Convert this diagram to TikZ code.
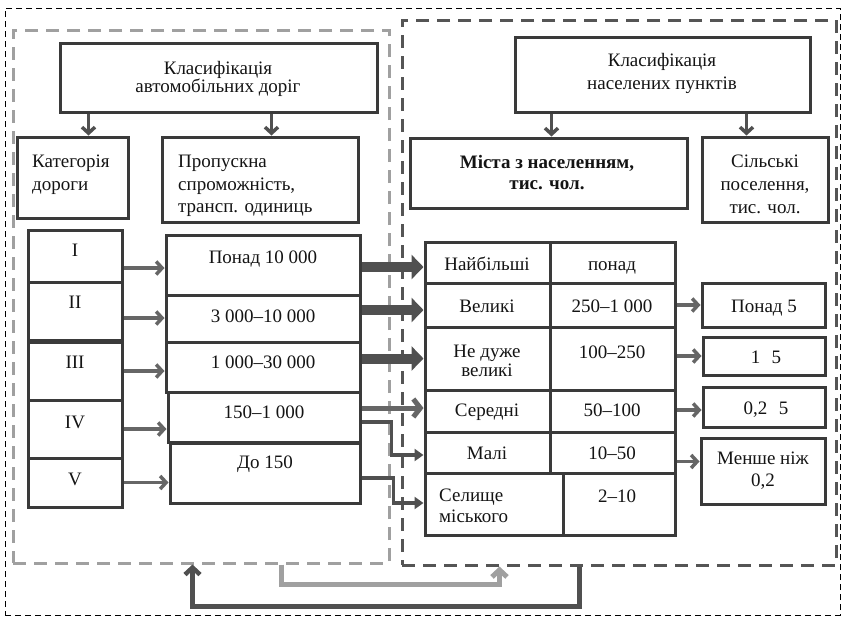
\documentclass[tikz,border=0pt]{standalone}
\usepackage{fontspec}
\setmainfont{Liberation Serif}
\usetikzlibrary{arrows.meta,fit}
\definecolor{boxc}{HTML}{3A3A3A}
\definecolor{arrd}{HTML}{505050}
\definecolor{arrm}{HTML}{666666}
\definecolor{lgray}{HTML}{A0A0A0}
\definecolor{dgray}{HTML}{555555}
\definecolor{txtc}{HTML}{141414}
\begin{document}
\begin{tikzpicture}[x=1pt,y=-1pt,
  bx/.style={draw=boxc, line width=3pt, fill=white, inner sep=0pt},
  fs/.style={font=\fontsize{19}{#1}\selectfont, text=txtc, inner sep=0pt},
  fsb/.style={font=\fontsize{19}{#1}\selectfont\bfseries, text=txtc, inner sep=0pt},
  tx/.style={fs=21, anchor=base},
  darr/.style={draw=arrd, line width=3.5pt, -{Straight Barb[length=6pt,width=13pt]}},
  garr/.style={draw=arrm, line width=3.5pt, -{Straight Barb[length=6pt,width=13pt]}},
  bigarr/.style={draw=arrd, line width=10pt, -{Triangle[length=12pt,width=24pt]}},
  midarr/.style={draw=arrm, line width=5pt, -{Straight Barb[length=7pt,width=18pt]}},
  elarr/.style={draw=arrd, line width=3.5pt, -{Triangle[length=9pt,width=12pt]}},
  botd/.style={draw=arrd, line width=4.5pt, -{Straight Barb[length=7pt,width=15pt]}},
  botl/.style={draw=lgray, line width=5pt, -{Straight Barb[length=7pt,width=15pt]}}
]
\useasboundingbox (0,0) rectangle (845,619);
\fill[white] (0,0) rectangle (845,619);

% region frames
\node[draw=black, dash pattern=on 6pt off 4pt, line width=0.9pt, inner sep=0pt, fit={(5,8) (840,615)}] (outer) {};
\node[draw=lgray, dash pattern=on 13pt off 8pt, line width=3pt, inner sep=0pt, fit={(13,30) (389,563)}] (lreg) {};
\node[draw=dgray, dash pattern=on 13pt off 8pt, line width=3pt, inner sep=0pt, fit={(402,20) (836,565)}] (rreg) {};

% left header boxes
\node[bx, fit={(60,43) (377,112)}] (ctop) {};
\node[bx, fit={(17,137) (128,218)}] (ccat) {};
\node[bx, fit={(162,137) (358,222)}] (ccap) {};
\node[fs=17, align=center] (ctopt) at (218,79) {Класифікація\\автомобільних доріг};
\node[fs=23, align=left, anchor=west] (ccatt) at (32,175) {Категорія\\дороги};
\node[fs=22.5, align=left, anchor=west] (ccapt) at (178,186) {Пропускна\\спроможність,\\трансп. одиниць};

% right header boxes
\node[bx, fit={(515,37) (810,112)}] (rtop) {};
\node[bx, fit={(410,138) (687,208)}] (rcity) {};
\node[bx, fit={(702,137) (828,222)}] (rrural) {};
\node[fs=23, align=center] (rtopt) at (662,73) {Класифікація\\населених пунктів};
\node[fsb=21, align=center] (rcityt) at (547,173) {Міста з населенням,\\тис. чол.};
\node[fs=23, align=center] (rruralt) at (765,184.5) {Сільські\\поселення,\\тис. чол.};

% category boxes
\node[bx, fit={(28,230) (122,282)}] (b1) {};
\node[bx, fit={(28,282) (122,340)}] (b2) {};
\node[bx, fit={(28,342) (122,400)}] (b3) {};
\node[bx, fit={(28,400) (122,458)}] (b4) {};
\node[bx, fit={(28,458) (122,507)}] (b5) {};
\node[tx] (b1t) at (75,256) {I};
\node[tx] (b2t) at (75,308) {II};
\node[tx] (b3t) at (75,368) {III};
\node[tx] (b4t) at (75,428) {IV};
\node[tx] (b5t) at (75,485) {V};

% capacity boxes
\node[bx, fit={(166,235) (360,295)}] (p1) {};
\node[bx, fit={(166,295) (360,342)}] (p2) {};
\node[bx, fit={(166,342) (360,392)}] (p3) {};
\node[bx, fit={(168,392) (360,442)}] (p4) {};
\node[bx, fit={(170,443) (360,503)}] (p5) {};
\node[tx] (p1t) at (263,263) {Понад 10 000};
\node[tx] (p2t) at (263,322) {3 000–10 000};
\node[tx] (p3t) at (263,368) {1 000–30 000};
\node[tx] (p4t) at (264,418) {150–1 000};
\node[tx] (p5t) at (265,468) {До 150};

% city table
\node[bx, fit={(425,242) (550,283)}] (c1a) {};
\node[bx, fit={(550,242) (675,283)}] (c1b) {};
\node[bx, fit={(425,283) (550,327)}] (c2a) {};
\node[bx, fit={(550,283) (675,327)}] (c2b) {};
\node[bx, fit={(425,327) (550,390)}] (c3a) {};
\node[bx, fit={(550,327) (675,390)}] (c3b) {};
\node[bx, fit={(425,390) (550,432)}] (c4a) {};
\node[bx, fit={(550,390) (675,432)}] (c4b) {};
\node[bx, fit={(425,432) (550,473)}] (c5a) {};
\node[bx, fit={(550,432) (675,473)}] (c5b) {};
\node[bx, fit={(425,473) (563,535)}] (c6a) {};
\node[bx, fit={(563,473) (675,535)}] (c6b) {};
\node[tx] (c1at) at (487,270) {Найбільші};
\node[tx] (c1bt) at (612,270) {понад};
\node[tx] (c2at) at (487,312) {Великі};
\node[tx] (c2bt) at (612,312) {250–1 000};
\node[fs=19, align=center] (c3at) at (487,361) {Не дуже\\великі};
\node[tx] (c3bt) at (612,358) {100–250};
\node[tx] (c4at) at (487,416) {Середні};
\node[tx] (c4bt) at (612,416) {50–100};
\node[tx] (c5at) at (487,459) {Малі};
\node[tx] (c5bt) at (612,459) {10–50};
\node[fs=21, align=left, anchor=west] (c6at) at (439,506) {Селище\\міського};
\node[tx] (c6bt) at (617,502) {2–10};

% rural boxes
\node[bx, fit={(702,283) (825,327)}] (s1) {};
\node[bx, fit={(703,337) (825,375)}] (s2) {};
\node[bx, fit={(703,387) (825,427)}] (s3) {};
\node[bx, fit={(701,438) (825,504)}] (s4) {};
\node[tx] (s1t) at (764,312) {Понад 5};
\node[tx] (s2t) at (766,363) {1\hspace{0.6em}5};
\node[tx] (s3t) at (766,414) {0,2\hspace{0.6em}5};
\node[fs=22, align=center] (s4t) at (763,471) {Менше ніж\\0,2};

% header arrows
\draw[darr] ([xshift=30]ctop.south west) -- ([xshift=30]ctop.south west |- ccat.north);
\draw[darr] ([xshift=213]ctop.south west) -- ([xshift=213]ctop.south west |- ccap.north);
\draw[darr] ([xshift=38]rtop.south west) -- ([xshift=38]rtop.south west |- rcity.north);
\draw[darr] ([xshift=233]rtop.south west) -- ([xshift=233]rtop.south west |- rrural.north);

% category -> capacity
\draw[garr] ([yshift=-12]b1.east) -- ([yshift=-12]b1.east -| p1.west);
\draw[garr] ([yshift=-7]b2.east) -- ([yshift=-7]b2.east -| p2.west);
\draw[garr] (b3.east) -- (b3.east -| p3.west);
\draw[garr] (b4.east) -- (b4.east -| p4.west);
\draw[garr] (b5.east) -- (b5.east -| p5.west);

% capacity -> cities
\draw[bigarr] ([yshift=-4.5]c1a.west -| p1.east) -- ([yshift=-4.5]c1a.west);
\draw[bigarr] ([yshift=-5]c2a.west -| p2.east) -- ([yshift=-5]c2a.west);
\draw[bigarr] (c3a.west -| p3.east) -- (c3a.west);
\draw[midarr] ([yshift=3]c4a.west -| p4.east) -- ([yshift=3]c4a.west);
\draw[elarr] ([yshift=-5]p4.east) -- ++(30,0) |- ([yshift=-2.5]c5a.west);
\draw[elarr] ([yshift=-5]p5.east) -- ++(32,0) |- ([yshift=1]c6a.west);

% cities -> rural
\draw[garr] (c2b.east) -- (s1.west);
\draw[garr] (s2.west -| c3b.east) -- (s2.west);
\draw[garr] ([yshift=-3]s3.west -| c4b.east) -- ([yshift=-3]s3.west);
\draw[garr] ([yshift=-9]c5b.east) -- ([yshift=-9]c5b.east -| s4.west);

% bottom feedback arrows
\draw[botl] ([xshift=270]lreg.south west) -- ++(0,20) -| ([xshift=99]rreg.south west);
\draw[botd] ([xshift=179]rreg.south west) -- ++(0,40) -| ([xshift=181]lreg.south west);
\end{tikzpicture}
\end{document}
